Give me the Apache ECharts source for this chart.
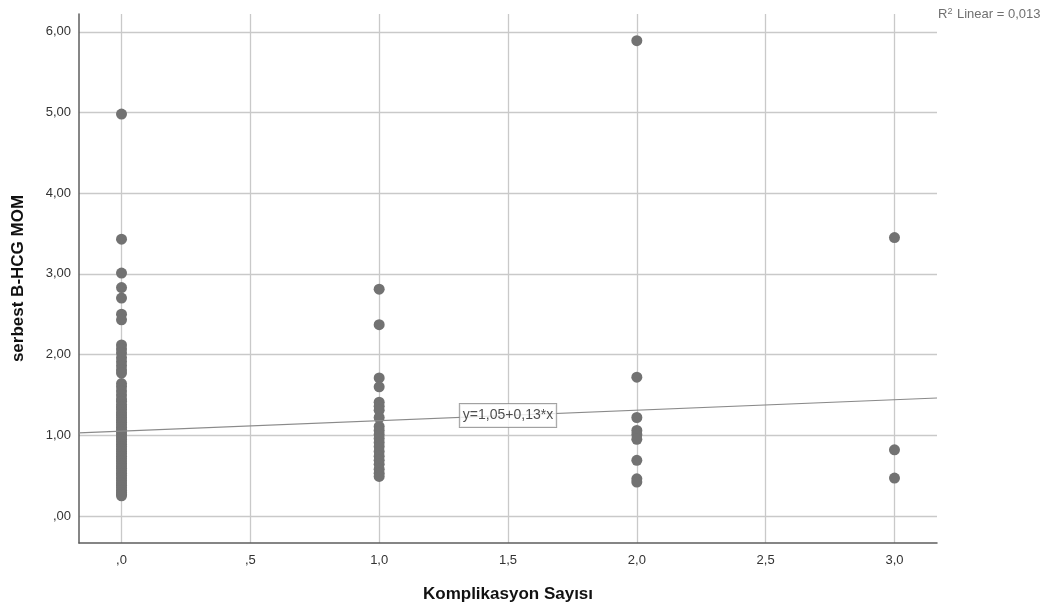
<!DOCTYPE html>
<html>
<head>
<meta charset="utf-8">
<script src="https://cdn.jsdelivr.net/npm/echarts@6/dist/echarts.min.js"></script>
<style>
  html, body { margin: 0; padding: 0; background: #fff; }
  #chart { width: 1054px; height: 612px; }
</style>
</head>
<body>
<div id="chart"></div>
<script>
// serbest B-HCG MOM values grouped by Komplikasyon Sayısı
const komplikasyon0 = [4.98, 3.43, 3.01, 2.83, 2.70, 2.50, 2.43, 2.12, 2.07, 2.02, 1.96, 1.91,
  1.86, 1.81, 1.77, 1.64, 1.60, 1.55, 1.50, 1.45, 1.42, 1.38, 1.35, 1.32, 1.28, 1.25, 1.22,
  1.19, 1.16, 1.13, 1.10, 1.07, 1.04, 1.01, 0.98, 0.95, 0.92, 0.89, 0.86, 0.83, 0.80, 0.77,
  0.74, 0.71, 0.68, 0.65, 0.62, 0.59, 0.56, 0.53, 0.50, 0.47, 0.44, 0.41, 0.38, 0.35, 0.32,
  0.29, 0.27, 0.25];
const komplikasyon1 = [2.81, 2.37, 1.71, 1.60, 1.41, 1.36, 1.31, 1.22, 1.11, 1.06, 1.01, 0.96,
  0.91, 0.86, 0.80, 0.74, 0.69, 0.64, 0.58, 0.53, 0.49];
const komplikasyon2 = [5.89, 1.72, 1.22, 1.06, 1.01, 0.95, 0.69, 0.46, 0.42];
const komplikasyon3 = [3.45, 0.82, 0.47];
const groupX = [0, 1, 2, 3];

// Linear fit reported on the chart
const fitIntercept = 1.05;
const fitSlope = 0.13;
const fitLabel = 'y=1,05+0,13*x';
const fitLabelX = 1.5;
const rSquaredText = '0,013';

// Axis ranges and tick positions
const xRange = [-0.165, 3.165];
const yRange = [-0.335, 6.22];
const xTicks = [0, 0.5, 1, 1.5, 2, 2.5, 3];
const yTicks = [0, 1, 2, 3, 4, 5, 6];

const groups = [komplikasyon0, komplikasyon1, komplikasyon2, komplikasyon3];
const points = [];
groups.forEach((vals, i) => vals.forEach(v => points.push([groupX[i], v])));

// SPSS-style decimal comma with no leading zero
function spssNum(v, digits) {
  let s = v.toFixed(digits).replace('.', ',');
  if (s.startsWith('0,')) s = s.slice(1);
  return s;
}

const FONT = 'Liberation Sans, Arial, sans-serif';
const gridColor = '#c9c9c9';
const axisColor = '#5e5e5e';

const chart = echarts.init(document.getElementById('chart'), null, { renderer: 'canvas' });
chart.setOption({
  animation: false,
  backgroundColor: '#ffffff',
  textStyle: { fontFamily: FONT },
  grid: { left: 79, right: 117, top: 14, bottom: 69, containLabel: false },
  xAxis: {
    type: 'value',
    min: xRange[0],
    max: xRange[1],
    name: 'Komplikasyon Sayısı',
    nameLocation: 'middle',
    nameGap: 43,
    nameTextStyle: { fontFamily: FONT, fontSize: 17, fontWeight: 'bold', color: '#111' },
    axisLine: { show: true, onZero: false, lineStyle: { color: axisColor, width: 1.5 } },
    axisTick: { show: false, customValues: xTicks },
    axisLabel: {
      customValues: xTicks,
      formatter: v => spssNum(v, 1),
      fontFamily: FONT, fontSize: 13, color: '#333', margin: 11
    },
    splitLine: { show: true, lineStyle: { color: gridColor, width: 1.3 } }
  },
  yAxis: {
    type: 'value',
    min: yRange[0],
    max: yRange[1],
    name: 'serbest B-HCG MOM',
    nameLocation: 'middle',
    nameGap: 52,
    nameRotate: 90,
    nameTextStyle: { fontFamily: FONT, fontSize: 17, fontWeight: 'bold', color: '#111' },
    axisLine: { show: true, onZero: false, lineStyle: { color: axisColor, width: 1.5 } },
    axisTick: { show: false, customValues: yTicks },
    axisLabel: {
      customValues: yTicks,
      formatter: v => spssNum(v, 2),
      fontFamily: FONT, fontSize: 13, color: '#333', margin: 8
    },
    splitLine: { show: true, lineStyle: { color: gridColor, width: 1.3 } }
  },
  series: [
    {
      type: 'scatter',
      data: points,
      symbol: 'circle',
      symbolSize: 11,
      itemStyle: { color: '#727272', opacity: 1 },
      z: 3
    },
    {
      type: 'line',
      data: xRange.map(x => [x, fitIntercept + fitSlope * x]),
      symbol: 'none',
      lineStyle: { color: '#8a8a8a', width: 1.2 },
      z: 4
    },
    {
      type: 'scatter',
      data: [[fitLabelX, fitIntercept + fitSlope * fitLabelX]],
      symbolSize: 0,
      z: 5,
      label: {
        show: true,
        position: 'inside',
        formatter: fitLabel,
        fontFamily: FONT,
        fontSize: 14,
        color: '#222',
        backgroundColor: '#ffffff',
        borderColor: '#8a8a8a',
        borderWidth: 1,
        padding: [5, 3, 4, 3]
      }
    }
  ],
  graphic: [
    {
      type: 'text',
      left: 938,
      top: 7,
      style: {
        text: 'R{sup|2} Linear = ' + rSquaredText,
        fontFamily: FONT,
        fontSize: 13,
        fill: '#707070',
        rich: {
          sup: { fontSize: 9, verticalAlign: 'top', fill: '#707070', padding: [0, 1, 5, 0] }
        }
      }
    }
  ]
});
</script>
</body>
</html>
